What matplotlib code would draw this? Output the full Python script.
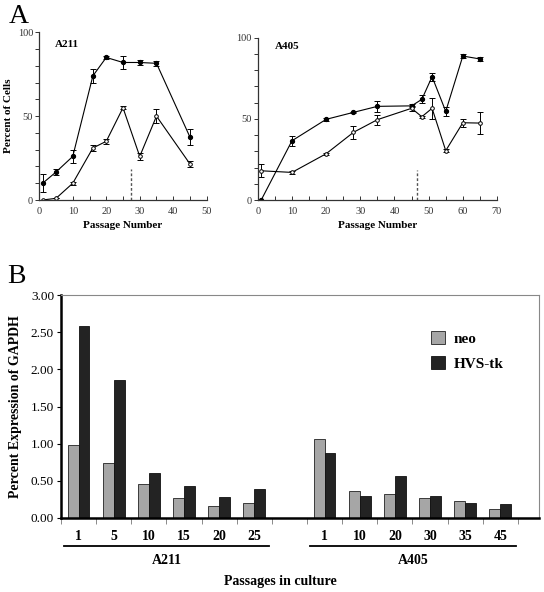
import matplotlib
matplotlib.use("Agg")
import matplotlib.pyplot as plt
import numpy as np

plt.rcParams['font.family'] = ['Liberation Serif', 'DejaVu Serif']

# ---- Panel A data ----
a211_x = [1, 5, 10, 16, 20, 25, 30, 35, 45]
a211_tk = [10, 16.7, 26, 74, 85, 82, 82, 81.5, 37.5]
a211_tk_err = [5.5, 2, 4, 4, 1, 4, 1.5, 1.5, 5]
a211_neo = [0, 1, 10, 31, 35, 55, 26, 50, 21.5]
a211_neo_err = [0, 0, 1, 1.5, 1.5, 1, 2, 4, 2]
a211_switch = 27.5

a405_x = [1, 10, 20, 28, 35, 45, 48, 51, 55, 60, 65]
a405_tk = [0, 36.5, 49.7, 54, 57.7, 58, 62, 76, 54.6, 88.7, 86.9]
a405_tk_err = [0, 3, 1, 0.5, 3.5, 1, 2.5, 2.5, 3, 1.5, 1.5]
a405_x_neo = [1, 10, 20, 28, 35, 45, 48, 51, 55, 60, 65]
a405_neo = [18, 17, 28.5, 41.7, 49.5, 56.5, 51.3, 56.5, 30.4, 47.6, 47.4]
a405_neo_err = [4, 1, 0.5, 4, 3, 1.5, 0.5, 6.5, 1, 2.5, 7]
a405_switch = 46.5

# ---- Panel B data ----
b_a211_labels = ['1', '5', '10', '15', '20', '25']
b_a211_neo = [0.98, 0.74, 0.46, 0.27, 0.16, 0.20]
b_a211_tk = [2.58, 1.85, 0.61, 0.43, 0.28, 0.39]
b_a405_labels = ['1', '10', '20', '30', '35', '45']
b_a405_neo = [1.06, 0.36, 0.32, 0.27, 0.23, 0.12]
b_a405_tk = [0.88, 0.29, 0.57, 0.30, 0.20, 0.19]
b_yticks = [0.0, 0.5, 1.0, 1.5, 2.0, 2.5, 3.0]

W, H = 544, 592
fig = plt.figure(figsize=(W / 100, H / 100), dpi=100)


def fx(px):
    return px / W


def fy(py):
    return 1 - py / H


def line_panel(ax, x, tk, tk_err, xn, neo, neo_err, xmax, switch, title, title_xy):
    kw = dict(color='black', lw=0.8, capsize=2.0, elinewidth=0.7, capthick=0.7)
    ax.errorbar(x, tk, yerr=tk_err, marker='o', ms=2.8, mfc='black', mec='black', **kw)
    ax.errorbar(xn, neo, yerr=neo_err, marker='o', ms=2.6, mfc='white', mec='black', mew=0.7, **kw)
    ax.plot([switch, switch], [0, 18.5], ls=(0, (2, 1.5)), color='#555555', lw=1.0)
    ax.set_xlim(0, xmax)
    ax.set_ylim(0, 100)
    for s in ['top', 'right']:
        ax.spines[s].set_visible(False)
    for s in ['left', 'bottom']:
        ax.spines[s].set_color('#333333')
        ax.spines[s].set_linewidth(0.9)
    ax.set_yticks([0, 50, 100])
    ax.set_yticks(np.arange(0, 101, 10), minor=True)
    ax.set_xticks(np.arange(0, xmax + 1, 10))
    ax.set_xticks(np.arange(0, xmax + 1, 5), minor=True)
    ax.tick_params(axis='y', which='both', direction='out', length=3, width=0.7, labelsize=7.5, pad=1.5, colors='#333333')
    ax.tick_params(axis='x', which='both', direction='in', length=3, width=0.7, labelsize=7.5, pad=5, colors='#333333')
    ax.set_xlabel('Passage Number', fontsize=8, fontweight='bold', labelpad=4)
    ax.text(title_xy[0], title_xy[1], title, fontsize=8, fontweight='bold', transform=ax.transData)
    ax.patch.set_alpha(0)


ax1 = fig.add_axes([fx(39.3), fy(200), fx(206.7 - 39.3), (200 - 32.3) / H])
line_panel(ax1, a211_x, a211_tk, a211_tk_err, a211_x, a211_neo, a211_neo_err, 50,
           a211_switch, 'A211', (4.8, 91))
ax1.set_ylabel('Percent of Cells', fontsize=8, fontweight='bold')
ax1.yaxis.set_label_coords(-(39.3 - 13) / (206.7 - 39.3), 0.5)

ax2 = fig.add_axes([fx(257.8), fy(200), fx(497 - 257.8), (200 - 37.7) / H])
line_panel(ax2, a405_x, a405_tk, a405_tk_err, a405_x_neo, a405_neo, a405_neo_err, 70,
           a405_switch, 'A405', (5, 93))

fig.text(fx(9), fy(23), 'A', fontsize=20)
fig.text(fx(7), fy(283), 'B', fontsize=20)

# ---- Panel B ----
ax3 = fig.add_axes([fx(61), fy(518), fx(539 - 61), (518 - 295) / H])
n = len(b_a211_labels)
pos_a = np.arange(n)
pos_b = np.arange(n) + n + 1
bw = 0.31
neo_c = '#a6a6a6'
tk_c = '#232323'
ax3.bar(pos_a - bw / 2, b_a211_neo, bw, color=neo_c, edgecolor='#222222', lw=0.6, label='neo')
ax3.bar(pos_a + bw / 2, b_a211_tk, bw, color=tk_c, edgecolor='#111111', lw=0.6, label='HVS-tk')
ax3.bar(pos_b - bw / 2, b_a405_neo, bw, color=neo_c, edgecolor='#222222', lw=0.6)
ax3.bar(pos_b + bw / 2, b_a405_tk, bw, color=tk_c, edgecolor='#111111', lw=0.6)
ax3.set_ylim(0, 3.0)
ax3.set_xlim(-0.5, 2 * n + 1 - 0.5 + 0.6)
ax3.set_yticks(b_yticks)
ax3.set_yticklabels(['%.2f' % v for v in b_yticks])
ax3.set_xticks(list(pos_a) + list(pos_b))
ax3.set_xticklabels(b_a211_labels + b_a405_labels, fontweight='bold')
ax3.set_xticks(np.arange(-0.5, 2 * n + 1, 1.0), minor=True)
ax3.tick_params(axis='x', which='major', length=0, labelsize=10, pad=9)
ax3.tick_params(axis='x', which='minor', direction='out', length=4, width=0.6, color='#777777')
ax3.tick_params(axis='y', direction='out', length=3, width=0.8, labelsize=9.5, pad=2)
ax3.spines['left'].set_linewidth(1.8)
ax3.spines['bottom'].set_linewidth(1.8)
ax3.spines['top'].set_color('#888888')
ax3.spines['right'].set_color('#888888')
ax3.spines['top'].set_linewidth(0.8)
ax3.spines['right'].set_linewidth(0.8)
ax3.set_ylabel('Percent Expression of GAPDH', fontsize=10, fontweight='bold', labelpad=6)

leg = ax3.legend(loc='upper right', bbox_to_anchor=(0.955, 0.9), frameon=False,
                 prop={'weight': 'bold', 'size': 11}, handlelength=0.9, handleheight=0.9,
                 handletextpad=0.6, labelspacing=0.7)

# group underlines and labels
trans = ax3.get_xaxis_transform()
yline = -(545.7 - 518) / 223
ylab = -(561 - 518) / 223
for x0, x1, lab in [(-0.41, n - 1 + 0.41, 'A211'), (n + 1 - 0.41, 2 * n + 0.45, 'A405')]:
    ax3.plot([x0, x1], [yline, yline], transform=trans, color='black', lw=1.3, clip_on=False)
    ax3.text((x0 + x1) / 2, ylab, lab, transform=trans, ha='center', va='center',
             fontsize=10, fontweight='bold')
fig.text(fx(280), fy(581), 'Passages in culture', ha='center', va='center', fontsize=10, fontweight='bold')

fig.savefig('out.png', dpi=100)
